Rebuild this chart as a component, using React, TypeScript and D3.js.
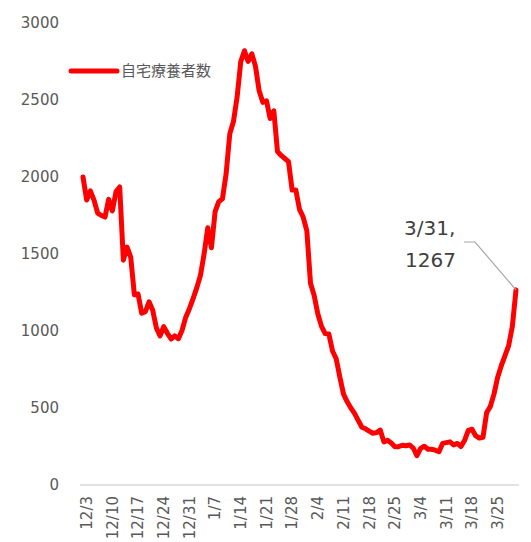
import React from "react";
import * as d3 from "d3";

const startDate = new Date(2020, 11, 3);
const seriesName = "自宅療養者数";
const values: number[] = [
  2000, 1850, 1910, 1850, 1765, 1750, 1740, 1855, 1780, 1905,
  1935, 1460, 1545, 1480, 1235, 1240, 1115, 1125, 1190, 1135,
  1020, 968, 1028, 985, 948, 968, 950, 1005, 1090, 1145,
  1210, 1280, 1360, 1500, 1670, 1540, 1775, 1840, 1858, 2020,
  2280, 2360, 2520, 2750, 2820, 2750, 2800, 2720, 2560, 2485,
  2495, 2380, 2430, 2165, 2140, 2120, 2100, 1915, 1916, 1790,
  1740, 1650, 1310, 1230, 1110, 1030, 983, 980, 870, 820,
  700, 590, 540, 500, 465, 420, 375, 365, 350, 336,
  340, 357, 280, 290, 272, 248, 249, 258, 255, 260,
  240, 190, 238, 252, 232, 232, 226, 216, 270, 275,
  280, 260, 270, 250, 290, 355, 362, 320, 305, 310,
  470, 510, 590, 700, 775, 840, 905, 1030, 1267,
];
const yTicks = [0, 500, 1000, 1500, 2000, 2500, 3000];
const annotationLines = ["3/31,", "1267"];

const dates = values.map((_, i) => d3.timeDay.offset(startDate, i));
const fmt = (d: Date) => `${d.getMonth() + 1}/${d.getDate()}`;

const FONT = "'DejaVu Sans', 'Noto Sans CJK JP', sans-serif";

export default function App() {
  const x = d3.scaleLinear().domain([0, values.length - 1]).range([83, 516]);
  const y = d3.scaleLinear().domain([0, 3000]).range([485, 23]);
  const line = d3
    .line<number>()
    .x((_, i) => x(i))
    .y((d) => y(d))
    .curve(d3.curveLinear);

  const lastI = values.length - 1;
  const lx = x(lastI);
  const ly = y(values[lastI]);

  return (
    <svg
      width={531}
      height={542}
      style={{ position: "absolute", left: 0, top: 0, background: "#fff" }}
      fontFamily={FONT}
    >
      {yTicks.map((t) => (
        <text
          key={t}
          x={59}
          y={y(t)}
          textAnchor="end"
          dominantBaseline="central"
          fontSize={15}
          fill="#595959"
        >
          {t}
        </text>
      ))}
      <line x1={80} x2={519} y1={y(0)} y2={y(0)} stroke="#d9d9d9" strokeWidth={1.5} />
      {dates.map((d, i) =>
        i % 7 === 0 ? (
          <text
            key={i}
            transform={`translate(${x(i) + 4},${496}) rotate(-90)`}
            textAnchor="end"
            dominantBaseline="central"
            fontSize={15}
            fill="#595959"
          >
            {fmt(d)}
          </text>
        ) : null
      )}
      <path
        d={line(values) || ""}
        fill="none"
        stroke="#ff0000"
        strokeWidth={5}
        strokeLinejoin="round"
        strokeLinecap="round"
      />
      <line x1={71} x2={117} y1={71} y2={71} stroke="#ff0000" strokeWidth={5} strokeLinecap="round" />
      <text x={121} y={71} dominantBaseline="central" fontSize={15} fill="#595959">
        {seriesName}
      </text>
      <polyline
        points={`464,242 475,242 ${lx},${ly}`}
        fill="none"
        stroke="#a6a6a6"
        strokeWidth={1.2}
      />
      <text x={404} y={235} fontSize={20} fill="#404040">
        {annotationLines[0]}
      </text>
      <text x={405} y={267} fontSize={20} fill="#404040">
        {annotationLines[1]}
      </text>
    </svg>
  );
}
